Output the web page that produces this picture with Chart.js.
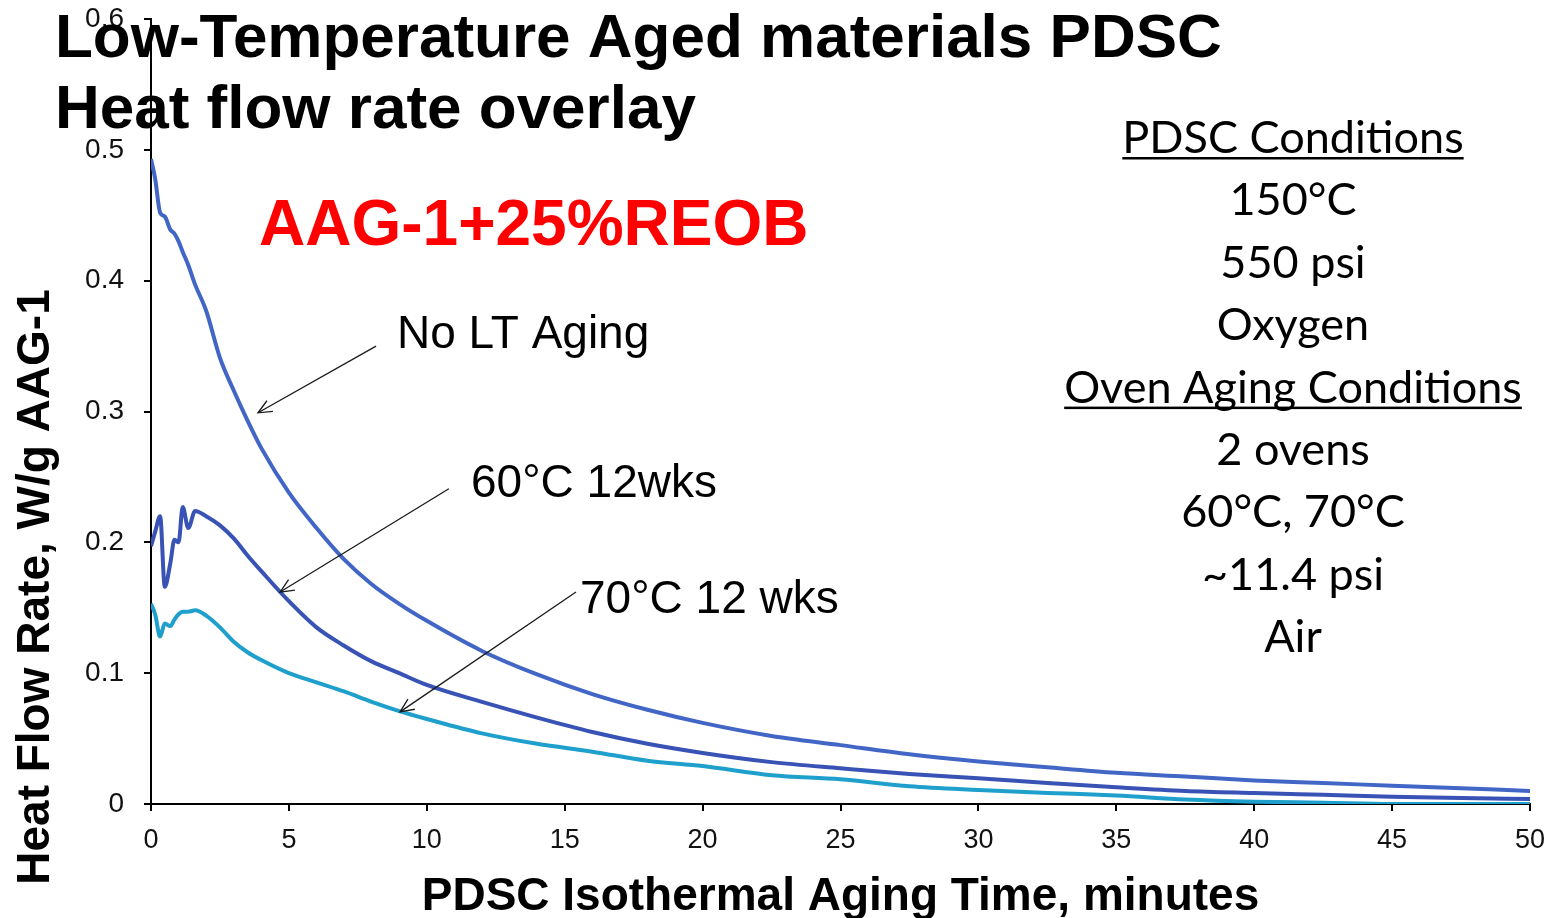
<!DOCTYPE html>
<html>
<head>
<meta charset="utf-8">
<script src="https://cdn.jsdelivr.net/npm/chart.js@4/dist/chart.umd.min.js"></script>
<style>
  html, body { margin: 0; padding: 0; background: #fff; }
  #wrap { width: 1554px; height: 918px; position: relative; }
</style>
</head>
<body>
<div id="wrap"><canvas id="c" width="1554" height="918"></canvas></div>
<script>
// ---- Data ----
const times = [0, 0.15, 0.33, 0.5, 0.7, 0.85, 1.0, 1.15, 1.35, 1.6, 2.0, 2.5, 3.0, 3.5, 4.0, 5.0, 6.0, 7.0, 8.0, 9.0, 10, 12, 14, 16, 18, 20, 22.5, 25, 27.5, 30, 32.5, 35, 37.5, 40, 42.5, 45, 47.5, 50];
const noLTAging = [0.493, 0.478, 0.452, 0.449, 0.439, 0.436, 0.430, 0.422, 0.412, 0.397, 0.377, 0.341, 0.316, 0.293, 0.272, 0.238, 0.211, 0.187, 0.168, 0.153, 0.140, 0.117, 0.099, 0.084, 0.072, 0.062, 0.052, 0.045, 0.038, 0.0325, 0.028, 0.0238, 0.021, 0.018, 0.016, 0.014, 0.012, 0.010];
const aged60C = [0.197, 0.208, 0.220, 0.166, 0.184, 0.202, 0.200, 0.227, 0.211, 0.224, 0.220, 0.213, 0.203, 0.190, 0.178, 0.155, 0.135, 0.121, 0.109, 0.100, 0.091, 0.078, 0.066, 0.055, 0.046, 0.039, 0.032, 0.0273, 0.023, 0.0197, 0.016, 0.0128, 0.010, 0.0084, 0.007, 0.0056, 0.0045, 0.0038];
const aged70C = [0.153, 0.145, 0.128, 0.138, 0.136, 0.141, 0.145, 0.147, 0.147, 0.148, 0.144, 0.135, 0.124, 0.116, 0.110, 0.100, 0.093, 0.086, 0.078, 0.071, 0.065, 0.054, 0.046, 0.040, 0.033, 0.029, 0.022, 0.0189, 0.0135, 0.0107, 0.0085, 0.0065, 0.0035, 0.0018, 0.001, 0.0, 0.0, 0.0];
const seriesNames = ["No LT Aging", "60°C 12wks", "70°C 12 wks"];
const xTickStep = 5;
const yTickStep = 0.1;

// ---- Annotation texts ----
const titleLines = ["Low-Temperature Aged materials PDSC", "Heat flow rate overlay"];
const sampleLabel = "AAG-1+25%REOB";
const xAxisTitle = "PDSC Isothermal Aging Time, minutes";
const yAxisTitle = "Heat Flow Rate, W/g AAG-1";
const conditionLines = ["PDSC Conditions", "150°C", "550 psi", "Oxygen", "Oven Aging Conditions", "2 ovens", "60°C, 70°C", "~11.4 psi", "Air"];
const underlinedLines = [0, 4];
// arrows in data coordinates: [tailX, tailY, tipX, tipY]
const arrows = [
  [8.16, 0.350, 3.88, 0.299],
  [10.80, 0.241, 4.68, 0.162],
  [15.41, 0.162, 9.03, 0.0704]
];

const toPts = arr => times.map((t, i) => ({ x: t, y: arr[i] }));

const overlay = {
  id: 'overlay',
  afterDraw(chart) {
    const ctx = chart.ctx;
    const xs = chart.scales.x, ys = chart.scales.y;
    ctx.save();
    // arrows
    ctx.strokeStyle = '#1a1a1a';
    ctx.lineWidth = 1.3;
    arrows.forEach(a => {
      const x1 = xs.getPixelForValue(a[0]), y1 = ys.getPixelForValue(a[1]);
      const x2 = xs.getPixelForValue(a[2]), y2 = ys.getPixelForValue(a[3]);
      ctx.beginPath(); ctx.moveTo(x1, y1); ctx.lineTo(x2, y2); ctx.stroke();
      const ang = Math.atan2(y2 - y1, x2 - x1);
      const L = 15, w = 0.42;
      ctx.beginPath();
      ctx.moveTo(x2 - L * Math.cos(ang - w), y2 - L * Math.sin(ang - w));
      ctx.lineTo(x2, y2);
      ctx.lineTo(x2 - L * Math.cos(ang + w), y2 - L * Math.sin(ang + w));
      ctx.stroke();
    });
    // series labels
    ctx.fillStyle = '#000';
    ctx.textAlign = 'left';
    ctx.textBaseline = 'alphabetic';
    ctx.font = '46px "Liberation Sans", Arial, sans-serif';
    ctx.fillText(seriesNames[0], 397, 348);
    ctx.fillText(seriesNames[1], 471, 497);
    ctx.fillText(seriesNames[2], 580, 613);
    // red sample label
    ctx.fillStyle = '#ff0000';
    ctx.font = 'bold 64px "Liberation Sans", Arial, sans-serif';
    ctx.fillText(sampleLabel, 259, 245);
    // title
    ctx.fillStyle = '#000';
    ctx.font = 'bold 62px "Liberation Sans", Arial, sans-serif';
    ctx.fillText(titleLines[0], 55, 57);
    ctx.fillText(titleLines[1], 55, 128);
    // axis titles
    ctx.font = 'bold 46px "Liberation Sans", Arial, sans-serif';
    ctx.textAlign = 'center';
    ctx.fillText(xAxisTitle, (chart.chartArea.left + chart.chartArea.right) / 2, 910);
    ctx.save();
    ctx.translate(49, 587);
    ctx.rotate(-Math.PI / 2);
    ctx.fillText(yAxisTitle, 0, 0);
    ctx.restore();
    // conditions block
    ctx.font = '50px Lato, "Open Sans", sans-serif';
    const wRef = ctx.measureText(conditionLines[0]).width;
    const size = 50 * 341 / wRef;
    ctx.font = size.toFixed(1) + 'px Lato, "Open Sans", sans-serif';
    const cx = 1293;
    conditionLines.forEach((s, i) => {
      const by = 153 + i * 62.4;
      ctx.fillText(s, cx, by);
      if (underlinedLines.includes(i)) {
        const w = ctx.measureText(s).width;
        ctx.fillRect(cx - w / 2, by + 4, w, 2.5);
      }
    });
    ctx.restore();
  }
};

function zeroPad(s) { s.paddingTop = 0; s.paddingBottom = 0; s.paddingLeft = 0; s.paddingRight = 0; }

new Chart(document.getElementById('c'), {
  type: 'scatter',
  data: {
    datasets: [
      { label: seriesNames[0], data: toPts(noLTAging), borderColor: '#4266c6', borderWidth: 4, showLine: true, pointRadius: 0, cubicInterpolationMode: 'monotone' },
      { label: seriesNames[1], data: toPts(aged60C), borderColor: '#3853b5', borderWidth: 4, showLine: true, pointRadius: 0, cubicInterpolationMode: 'monotone' },
      { label: seriesNames[2], data: toPts(aged70C), borderColor: '#1f9fcb', borderWidth: 4, showLine: true, pointRadius: 0, cubicInterpolationMode: 'monotone' }
    ]
  },
  options: {
    responsive: false,
    animation: false,
    devicePixelRatio: 1,
    layout: { padding: { left: 0, right: 24, top: 19, bottom: 0 } },
    plugins: { legend: { display: false }, tooltip: { enabled: false }, title: { display: false } },
    scales: {
      x: {
        type: 'linear', min: 0, max: 50,
        ticks: { stepSize: xTickStep, color: '#111', padding: 13, maxRotation: 0, font: { family: '"Liberation Sans", Arial, sans-serif', size: 27 } },
        grid: { drawOnChartArea: false, drawTicks: true, tickLength: 7, color: '#000', lineWidth: 2 },
        border: { display: true, color: '#000', width: 2 },
        afterFit(s) { s.height = 114; zeroPad(s); }
      },
      y: {
        type: 'linear', min: 0, max: 0.6,
        ticks: { stepSize: yTickStep, color: '#111', padding: 20, font: { family: '"Liberation Sans", Arial, sans-serif', size: 28 },
                 callback: v => Number(v.toFixed(1)).toString() },
        grid: { drawOnChartArea: false, drawTicks: true, tickLength: 7, color: '#000', lineWidth: 2 },
        border: { display: true, color: '#000', width: 2 },
        afterFit(s) { s.width = 151; zeroPad(s); }
      }
    }
  },
  plugins: [overlay]
});
</script>
</body>
</html>
